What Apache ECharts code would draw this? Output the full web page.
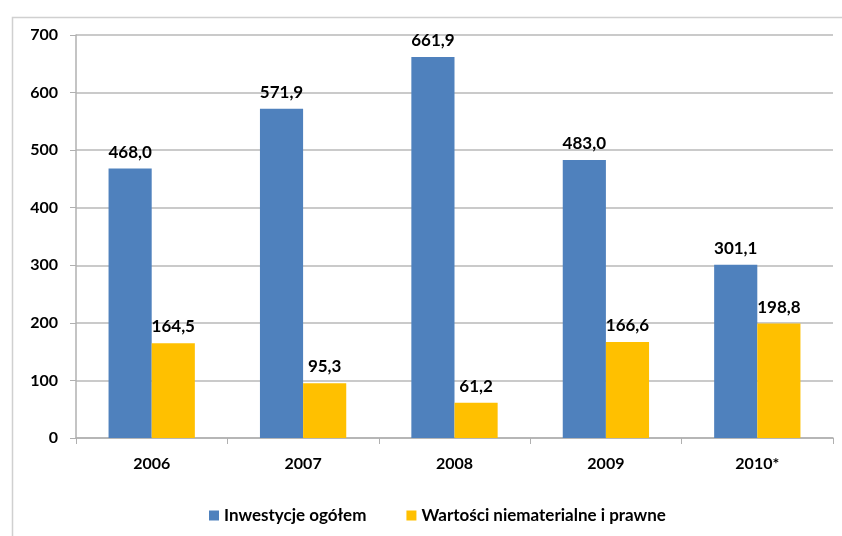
<!DOCTYPE html>
<html>
<head>
    <meta charset="utf-8"/>
    <script src="https://cdn.jsdelivr.net/npm/echarts@6/dist/echarts.min.js"></script>
</head>
<body style="margin:0">
<div id="main" style="width:842px;height:536px;"></div>
<script type="text/javascript">
    var years = ['2006', '2007', '2008', '2009', '2010*'];
    var inwestycje = [468.0, 571.9, 661.9, 483.0, 301.1];
    var wartosci = [164.5, 95.3, 61.2, 166.6, 198.8];
    var seriesNames = ['Inwestycje ogółem', 'Wartości niematerialne i prawne'];

    var font = 'Lato, "Open Sans", sans-serif';
    var chart = echarts.init(document.getElementById('main'));

    // etykiety z przecinkiem dziesiętnym
    function fmt(p) {
        return p.value.toFixed(1).replace('.', ',');
    }
    var labelStyle = {
        show: true, position: 'top', distance: 8,
        color: '#000', fontWeight: 'bold', fontSize: 17, fontFamily: font,
        formatter: fmt
    };

    var option = {
        animation: false,
        backgroundColor: '#fff',
        graphic: [{
            type: 'rect', left: 10, top: 15,
            shape: { width: 860, height: 560 },
            style: { fill: 'none', stroke: '#d0d0d0', lineWidth: 1.5 }
        }],
        grid: { left: 76, right: 9, top: 35, bottom: 98 },
        legend: {
            bottom: 7, left: 204,
            itemWidth: 10, itemHeight: 10, itemGap: 40,
            icon: 'rect',
            textStyle: { fontFamily: font, fontWeight: 'bold', fontSize: 17, color: '#000' }
        },
        xAxis: {
            type: 'category',
            data: years,
            axisLine: { lineStyle: { color: '#b0b0b0', width: 1.5 } },
            axisTick: { show: true, length: 6, lineStyle: { color: '#b0b0b0' } },
            axisLabel: { color: '#000', fontWeight: 'bold', fontSize: 16, fontFamily: font, margin: 18 }
        },
        yAxis: {
            type: 'value',
            min: 0, max: 700, interval: 100,
            axisLine: { show: true, lineStyle: { color: '#b0b0b0', width: 1.5 } },
            axisTick: { show: true, length: 6, lineStyle: { color: '#b0b0b0' } },
            axisLabel: { color: '#000', fontWeight: 'bold', fontSize: 16, fontFamily: font, margin: 18 },
            splitLine: { lineStyle: { color: '#b8b8b8', width: 1.5 } }
        },
        series: [
            {
                name: seriesNames[0], type: 'bar', data: inwestycje,
                itemStyle: { color: '#4F81BD' },
                barGap: '0%', barCategoryGap: '43%',
                label: labelStyle
            },
            {
                name: seriesNames[1], type: 'bar', data: wartosci,
                itemStyle: { color: '#FFC000' },
                label: labelStyle
            }
        ]
    };

    chart.setOption(option);
</script>
</body>
</html>
